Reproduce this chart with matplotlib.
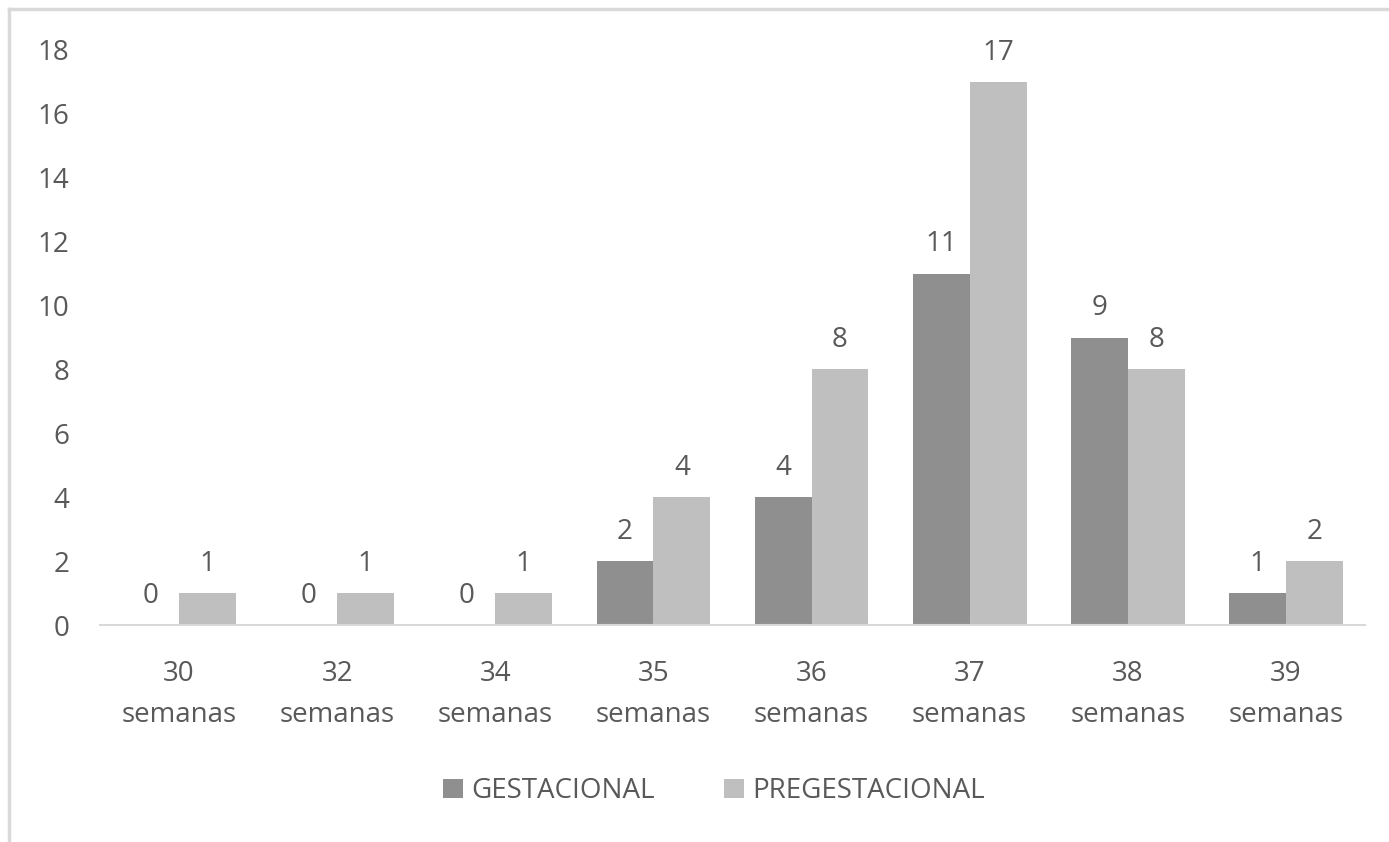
import matplotlib.pyplot as plt
import numpy as np
from matplotlib.lines import Line2D

# Data
semanas = ['30', '32', '34', '35', '36', '37', '38', '39']
gestacional = [0, 0, 0, 2, 4, 11, 9, 1]
pregestacional = [1, 1, 1, 4, 8, 17, 8, 2]

plt.rcParams['font.family'] = ['Open Sans', 'DejaVu Sans']
txt = '#595959'

fig = plt.figure(figsize=(13.89, 8.42), dpi=100)
ax = fig.add_axes([100/1389, 1 - 625/842, 1265/1389, 575/842])

x = np.arange(len(semanas))
w = 0.36
b1 = ax.bar(x - w/2, gestacional, w, color='#8f8f8f', label='GESTACIONAL')
b2 = ax.bar(x + w/2, pregestacional, w, color='#bfbfbf', label='PREGESTACIONAL')

# value labels above bars
for bars, vals in ((b1, gestacional), (b2, pregestacional)):
    for r, v in zip(bars, vals):
        ax.annotate(str(v), (r.get_x() + r.get_width()/2, v),
                    xytext=(0, 11), textcoords='offset points',
                    ha='center', va='bottom', fontsize=20, color=txt)

ax.set_xlim(-0.5, len(semanas) - 0.5)
ax.set_ylim(0, 18)
ax.set_yticks(range(0, 19, 2))
ax.set_xticks(x)
ax.set_xticklabels([s + '\nsemanas' for s in semanas], linespacing=1.65)
ax.tick_params(axis='both', length=0, labelsize=20, labelcolor=txt)
ax.tick_params(axis='y', pad=22)
ax.tick_params(axis='x', pad=25)

for s in ['top', 'right', 'left']:
    ax.spines[s].set_visible(False)
ax.spines['bottom'].set_color('#d9d9d9')
ax.spines['bottom'].set_linewidth(1.5)

fig.legend(handles=[b1, b2], loc='center', bbox_to_anchor=(714/1389, 1 - 791/842),
           ncol=2, frameon=False, fontsize=20, labelcolor=txt,
           handlelength=0.7, handleheight=0.7, handletextpad=0.3, columnspacing=2.5)

# light frame of the chart area (only top and left visible)
fig.add_artist(Line2D([9/1389, 9/1389], [0, 1 - 9/842], transform=fig.transFigure,
                      color='#d9d9d9', lw=2.5))
fig.add_artist(Line2D([9/1389, 1], [1 - 9/842, 1 - 9/842], transform=fig.transFigure,
                      color='#d9d9d9', lw=2.5))

fig.savefig('out.png', dpi=100)
